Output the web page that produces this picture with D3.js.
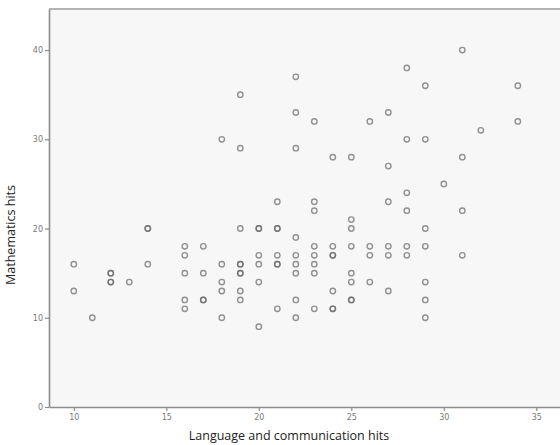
<!DOCTYPE html>
<html>
<head>
<meta charset="utf-8">
<script src="https://cdnjs.cloudflare.com/ajax/libs/d3/7.8.5/d3.min.js"></script>
<style>
  body { margin: 0; background: #fff; }
  svg { display: block; }
</style>
</head>
<body>
<div id="chart"></div>
<script>
'use strict';

// language and communication hits (x) / mathematics hits (y), one entry per student
const langHits = [
  10, 10, 11, 12, 12, 12, 12, 13, 14, 14, 14,
  16, 16, 16, 16, 16, 17, 17, 17, 17,
  18, 18, 18, 18, 18,
  19, 19, 19, 19, 19, 19, 19, 19, 19,
  20, 20, 20, 20, 20, 20,
  21, 21, 21, 21, 21, 21, 21,
  22, 22, 22, 22, 22, 22, 22, 22, 22,
  23, 23, 23, 23, 23, 23, 23, 23,
  24, 24, 24, 24, 24, 24, 24,
  25, 25, 25, 25, 25, 25, 25, 25,
  26, 26, 26, 26,
  27, 27, 27, 27, 27, 27,
  28, 28, 28, 28, 28, 28,
  29, 29, 29, 29, 29, 29, 29,
  30, 31, 31, 31, 31, 32, 34, 34
];
const mathHits = [
  16, 13, 10, 15, 15, 14, 14, 14, 20, 20, 16,
  18, 17, 15, 12, 11, 18, 15, 12, 12,
  30, 16, 14, 13, 10,
  35, 29, 20, 16, 16, 15, 15, 13, 12,
  20, 20, 17, 16, 14, 9,
  23, 20, 20, 17, 16, 16, 11,
  37, 33, 29, 19, 17, 16, 15, 12, 10,
  32, 23, 22, 18, 17, 16, 15, 11,
  28, 18, 17, 17, 13, 11, 11,
  28, 21, 20, 18, 15, 14, 12, 12,
  32, 18, 17, 14,
  33, 27, 23, 18, 17, 13,
  38, 30, 24, 22, 18, 17,
  36, 30, 20, 18, 14, 12, 10,
  25, 40, 28, 22, 17, 31, 36, 32
];
const xTicks = [10, 15, 20, 25, 30, 35];
const yTicks = [0, 10, 20, 30, 40];

const points = langHits.map((v, i) => ({lang: v, math: mathHits[i]}));

let margin = {top: 9, right: 0, bottom: 38, left: 49},
  width = 560 - margin.left - margin.right,
  height = 445 - margin.top - margin.bottom;

let svg = d3.select("#chart")
  .append("svg")
    .attr("width", 560)
    .attr("height", 445)
  .append("g")
    .attr("transform", "translate(" + margin.left + "," + margin.top + ")");

let x = d3.scaleLinear()
  .domain([8.66, 36.28])
  .range([0, width]);

let y = d3.scaleLinear()
  .domain([0, 44.6])
  .range([height, 0]);

// plot background and top frame line
svg.append("rect")
  .attr("width", width)
  .attr("height", height)
  .style("fill", "#f7f7f7");

svg.append("line")
  .attr("x1", 0).attr("x2", width)
  .attr("y1", 0).attr("y2", 0)
  .style("stroke", "#b4b4b4")
  .style("stroke-width", 2);

// axes
let xAxis = svg.append("g")
  .attr("transform", "translate(0," + height + ")")
  .call(d3.axisBottom(x).tickValues(xTicks).tickSize(4).tickSizeOuter(0).tickPadding(3));

let yAxis = svg.append("g")
  .call(d3.axisLeft(y).tickValues(yTicks).tickSize(4).tickSizeOuter(0).tickPadding(2));

[xAxis, yAxis].forEach(function(a) {
  a.select(".domain").style("stroke", "#8c8c8c").style("stroke-width", 1.6);
  a.selectAll(".tick line").style("stroke", "#8c8c8c").style("stroke-width", 1.2);
  a.selectAll(".tick text")
    .style("fill", "#7a7a7a")
    .style("font-family", "'DejaVu Sans', sans-serif")
    .style("font-size", "8px");
});

// points
svg.selectAll("circle")
  .data(points)
  .enter()
  .append("circle")
    .attr("cx", d => x(d.lang))
    .attr("cy", d => y(d.math))
    .attr("r", 2.7)
    .style("fill", "none")
    .style("stroke", "#6a6a6a")
    .style("stroke-width", 1.4)
    .style("opacity", 0.72);

// axis titles
svg.append("text")
  .attr("x", 240)
  .attr("y", height + 33)
  .attr("text-anchor", "middle")
  .style("font-family", "'Open Sans', sans-serif")
  .style("font-size", "12.5px")
  .style("fill", "#222")
  .text("Language and communication hits");

svg.append("text")
  .attr("transform", "translate(" + (-34) + "," + 226 + ") rotate(-90)")
  .attr("text-anchor", "middle")
  .style("font-family", "'Open Sans', sans-serif")
  .style("font-size", "12.5px")
  .style("fill", "#222")
  .text("Mathematics hits");
</script>
</body>
</html>
